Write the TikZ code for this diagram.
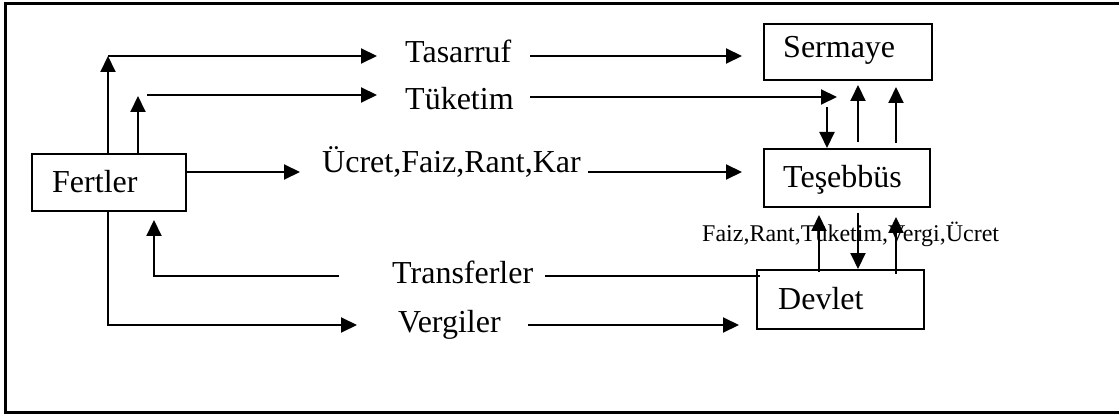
\documentclass[tikz,border=0pt]{standalone}
\usepackage{fontspec}
\setmainfont{Liberation Serif}
\usetikzlibrary{arrows.meta}
\begin{document}
\begin{tikzpicture}[x=1pt,y=-1pt,
  box/.style={draw,line width=2pt,rectangle,inner sep=0pt,anchor=north west},
  lbl/.style={inner sep=0pt,anchor=base west,font=\fontsize{32}{38}\selectfont},
  smalllbl/.style={inner sep=0pt,anchor=base west,font=\fontsize{24}{28}\selectfont},
  arr/.style={line width=2pt,-{Triangle[length=16pt,width=15pt]}},
  ln/.style={line width=2pt}]
\useasboundingbox (0,0) rectangle (1119,414);
\clip (0,0) rectangle (1119,414);
% outer frame
\draw[line width=3pt] (5,4) rectangle (1130,412);

% boxes
\node[box,minimum width=154pt,minimum height=57pt] (fertler) at (31,153) {};
\node[box,minimum width=168pt,minimum height=56pt] (sermaye) at (763,23) {};
\node[box,minimum width=166pt,minimum height=58pt] (tesebbus) at (763,148) {};
\node[box,minimum width=167pt,minimum height=59pt] (devlet) at (756,269) {};
\node[lbl] (tfertler) at (52,193) {Fertler};
\node[lbl] (tsermaye) at (783,58) {Sermaye};
\node[lbl] (ttesebbus) at (783,188) {Teşebbüs};
\node[lbl] (tdevlet) at (778,309) {Devlet};

% flow labels
\node[lbl] (tasarruf) at (405,63) {Tasarruf};
\node[lbl] (tuketim) at (405,110) {Tüketim};
\node[lbl] (gelir) at (322,173) {Ücret,Faiz,Rant,Kar};
\node[lbl] (transfer) at (392,283) {Transferler};
\node[lbl] (vergiler) at (398,332) {Vergiler};
\node[smalllbl] (akim) at (702,242) {Faiz,Rant,Tüketim,Vergi,Ücret};

% Tasarruf
\coordinate (sv1) at (108,56);
\coordinate (sv2) at (377,56);
\coordinate (sv3) at (530,56);
\coordinate (sv4) at (742,56);
\draw[arr] (fertler.north -| sv1) -- (sv1);
\draw[arr] (sv1) -- (sv2);
\draw[arr] (sv3) -- (sv4);

% Tüketim
\coordinate (tk0) at (138,96);
\coordinate (tk1) at (147,95);
\coordinate (tk2) at (377,95);
\coordinate (tk3) at (530,97);
\coordinate (tk4) at (837,97);
\draw[arr] (fertler.north -| tk0) -- (tk0);
\draw[arr] (tk1) -- (tk2);
\draw[arr] (tk3) -- (tk4);

% Ücret, Faiz, Rant, Kar
\coordinate (gl1) at (300,172);
\coordinate (gl2) at (588,172);
\coordinate (gl3) at (742,172);
\draw[arr] (fertler.east |- gl1) -- (gl1);
\draw[arr] (gl2) -- (gl3);

% Teşebbüs - Sermaye
\coordinate (ts1) at (827,107);
\coordinate (ts2) at (858,142);
\coordinate (ts3) at (858,85);
\coordinate (ts4) at (896,143);
\coordinate (ts5) at (896,87);
\draw[arr] (ts1) -- (tesebbus.north -| ts1);
\draw[arr] (ts2) -- (ts3);
\draw[arr] (ts4) -- (ts5);

% Devlet - Teşebbüs
\coordinate (dv1) at (819,272);
\coordinate (dv2) at (819,215);
\coordinate (dv3) at (858,213);
\coordinate (dv4) at (896,274);
\coordinate (dv5) at (896,217);
\draw[arr] (dv1) -- (dv2);
\draw[arr] (dv3) -- (devlet.north -| dv3);
\draw[arr] (dv4) -- (dv5);

% Transferler
\coordinate (tr1) at (760,276);
\coordinate (tr2) at (545,276);
\coordinate (tr3) at (339,276);
\coordinate (tr4) at (154,276);
\coordinate (tr5) at (154,220);
\draw[ln] (tr1) -- (tr2);
\draw[arr] (tr3) -- (tr4) -- (tr5);

% Vergiler
\coordinate (vg1) at (108,325);
\coordinate (vg2) at (357,325);
\coordinate (vg3) at (528,325);
\coordinate (vg4) at (739,325);
\draw[arr] (fertler.south -| vg1) -- (vg1) -- (vg2);
\draw[arr] (vg3) -- (vg4);
\end{tikzpicture}
\end{document}
